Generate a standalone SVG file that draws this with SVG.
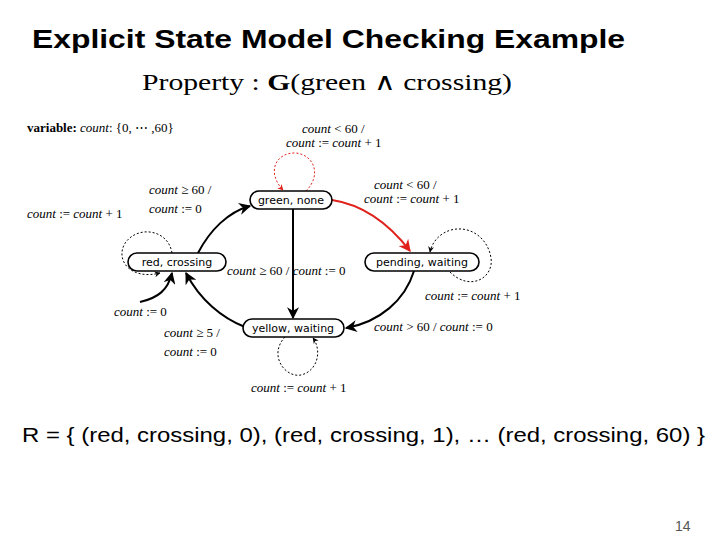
<svg xmlns="http://www.w3.org/2000/svg" width="720" height="540" viewBox="0 0 720 540">
<style>
.t{font-family:"Liberation Sans",Arial,sans-serif}
.m{font-family:"Liberation Serif","Times New Roman",serif;font-size:13px}
.i{font-style:italic}
.n rect{fill:#fff;stroke:#000;stroke-width:1.6}
.n text{font-family:"DejaVu Sans",sans-serif;font-size:11px;text-anchor:middle}
.e{fill:none;stroke:#000;stroke-width:2}
.d{fill:none;stroke:#000;stroke-width:1;stroke-dasharray:2,2}
.r{stroke:#e0201a}
</style>
<defs>
<marker id="a" viewBox="0 0 10 10" refX="9" refY="5" markerWidth="6" markerHeight="6" orient="auto"><path d="M0,0L10,5L0,10L3,5z" fill="#000"/></marker>
<marker id="ar" viewBox="0 0 10 10" refX="9" refY="5" markerWidth="6" markerHeight="6" orient="auto"><path d="M0,0L10,5L0,10L3,5z" fill="#e0201a"/></marker>
</defs>
<rect width="720" height="540" fill="#fff"/>
<text class="t" x="32" y="48" font-size="26" font-weight="bold" textLength="593" lengthAdjust="spacingAndGlyphs">Explicit State Model Checking Example</text>
<text x="142" y="90" font-family="Liberation Serif,serif" font-size="24" textLength="370" lengthAdjust="spacingAndGlyphs">Property : <tspan font-weight="bold">G</tspan>(green ∧ crossing)</text>
<text class="m" x="27" y="132"><tspan font-weight="bold">variable:</tspan> <tspan class="i">count</tspan>: {0, ⋯ ,60}</text>
<g id="connectors">
<path class="d r" d="M306,191 C322,175 314,155 296,153 C276,152 266,172 283,190" marker-end="url(#ar)"/>
<path class="e r" d="M332,200 C365,205 390,225 410,251" marker-end="url(#ar)"/>
<path class="e" d="M293,209 L293,318" marker-end="url(#a)"/>
<path class="e" d="M198,253 C210,230 228,212 250,206" marker-end="url(#a)"/>
<path class="d" d="M172,253 C168,228 135,225 124,245 C116,262 132,280 160,273" marker-end="url(#a)"/>
<path class="e" d="M140,302 C158,298 168,290 172,273" marker-end="url(#a)"/>
<path class="e" d="M245,327 C222,318 200,300 186,273" marker-end="url(#a)"/>
<path class="e" d="M414,271 C405,300 380,322 346,328" marker-end="url(#a)"/>
<path class="d" d="M450,272 C470,292 494,278 491,258 C488,238 470,225 451,230 C440,233 432,242 430,252" marker-end="url(#a)"/>
<path class="d" d="M285,337 C268,355 285,378 301,375 C318,371 322,350 313,338" marker-end="url(#a)"/>
</g>
<g id="n-green" class="n"><rect x="250" y="191" width="82" height="18" rx="9"/><text x="291" y="204">green, none</text></g>
<g id="n-red" class="n"><rect x="128" y="253" width="98" height="18" rx="9"/><text x="177" y="266">red, crossing</text></g>
<g id="n-pending" class="n"><rect x="365" y="253" width="114" height="18" rx="9"/><text x="422" y="266">pending, waiting</text></g>
<g id="n-yellow" class="n"><rect x="243" y="319" width="101" height="18" rx="9"/><text x="293" y="332">yellow, waiting</text></g>
<g class="m">
<text x="302" y="133"><tspan class="i">count</tspan> &lt; 60 /</text>
<text x="286" y="147"><tspan class="i">count</tspan> := <tspan class="i">count</tspan> + 1</text>
<text x="374" y="189"><tspan class="i">count</tspan> &lt; 60 /</text>
<text x="364" y="203"><tspan class="i">count</tspan> := <tspan class="i">count</tspan> + 1</text>
<text x="149" y="194"><tspan class="i">count</tspan> ≥ 60 /</text>
<text x="149" y="213"><tspan class="i">count</tspan> := 0</text>
<text x="27" y="218"><tspan class="i">count</tspan> := <tspan class="i">count</tspan> + 1</text>
<text x="227" y="275"><tspan class="i">count</tspan> ≥ 60 / <tspan class="i">count</tspan> := 0</text>
<text x="425" y="300"><tspan class="i">count</tspan> := <tspan class="i">count</tspan> + 1</text>
<text x="114" y="316"><tspan class="i">count</tspan> := 0</text>
<text x="164" y="337"><tspan class="i">count</tspan> ≥ 5 /</text>
<text x="164" y="356"><tspan class="i">count</tspan> := 0</text>
<text x="374" y="331"><tspan class="i">count</tspan> &gt; 60 / <tspan class="i">count</tspan> := 0</text>
<text x="251" y="392"><tspan class="i">count</tspan> := <tspan class="i">count</tspan> + 1</text>
</g>
<text class="t" x="22" y="442" font-size="20" textLength="683" lengthAdjust="spacingAndGlyphs">R = { (red, crossing, 0), (red, crossing, 1), … (red, crossing, 60) }</text>
<text class="t" x="675" y="531" font-size="14" fill="#555">14</text>
</svg>
